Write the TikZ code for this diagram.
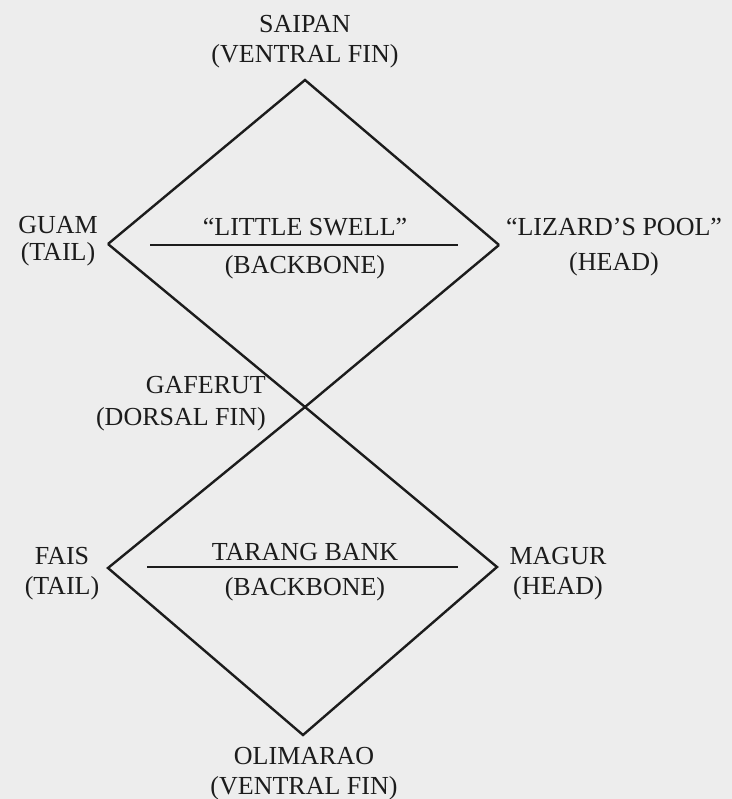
\documentclass[tikz,border=0pt]{standalone}
\usepackage{fontspec}
\setmainfont{Liberation Serif}
\definecolor{paper}{RGB}{237,237,237}
\definecolor{ink}{RGB}{28,28,28}
\begin{document}
\begin{tikzpicture}[x=1bp,y=-1bp,
  lbl/.style={font=\fontsize{26bp}{30bp}\selectfont, text=ink, inner sep=0pt, align=center},
  edge/.style={draw=ink, line width=2.4bp, line join=miter},
  spine/.style={draw=ink, line width=1.8bp}]
% page
\fill[paper] (0,0) rectangle (732,799);
\useasboundingbox (0,0) rectangle (732,799);

% corners of the two diamonds (they meet at the dorsal fin)
\coordinate (saipanV)   at (305,80);
\coordinate (guamV)     at (108,244);
\coordinate (lizardV)   at (499,245);
\coordinate (gaferutV)  at (305,407);
\coordinate (faisV)     at (108,568);
\coordinate (magurV)    at (497,567);
\coordinate (olimaraoV) at (303,735);

% backbone lines
\coordinate (bbAw) at (150,245);
\coordinate (bbAe) at (458,245);
\coordinate (bbBw) at (147,567);
\coordinate (bbBe) at (458,567);

% upper diamond
\draw[edge] (guamV) -- (saipanV) -- (lizardV);
\draw[edge] (guamV) -- (gaferutV);
\draw[edge] (lizardV) -- (gaferutV);
% lower diamond
\draw[edge] (gaferutV) -- (faisV) -- (olimaraoV) -- (magurV) -- (gaferutV);

\draw[spine] (bbAw) -- (bbAe);
\draw[spine] (bbBw) -- (bbBe);

% labels
\node[lbl] (saipan) at (305,41.5) {SAIPAN\\(VENTRAL FIN)};
\node[lbl] (guam) at (58,241.5) {GUAM\\[-3bp](TAIL)};
\node[lbl] (lswell) at (305,227) {“LITTLE SWELL”};
\node[lbl] (bbA) at (305,267.4) {(BACKBONE)};
\node[lbl] (lizard) at (614,247.5) {“LIZARD’S POOL”\\[5bp](HEAD)};
\node[lbl, align=right, anchor=east] (gaferut) at (266,404) {GAFERUT\\[2bp](DORSAL FIN)};
\node[lbl] (fais) at (62,574) {FAIS\\(TAIL)};
\node[lbl] (tarang) at (305,552) {TARANG BANK};
\node[lbl] (bbB) at (305,589.4) {(BACKBONE)};
\node[lbl] (magur) at (558,574) {MAGUR\\(HEAD)};
\node[lbl] (olimarao) at (304,774) {OLIMARAO\\(VENTRAL FIN)};
\end{tikzpicture}
\end{document}
